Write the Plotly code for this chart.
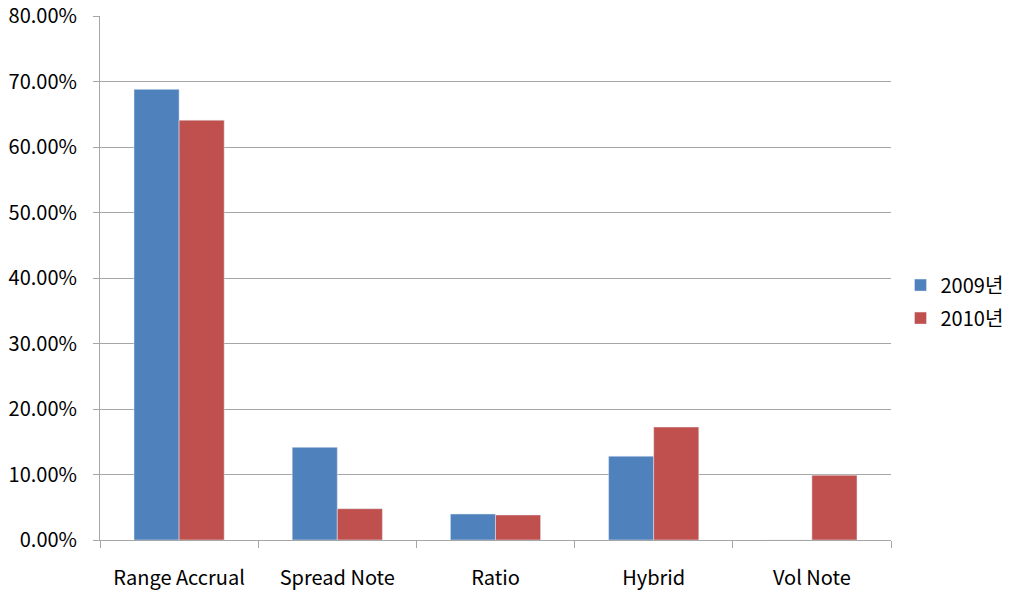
import plotly.graph_objects as go

categories = ["Range Accrual", "Spread Note", "Ratio", "Hybrid", "Vol Note"]
share_2009 = [0.688, 0.1415, 0.0397, 0.128, 0.0]
share_2010 = [0.641, 0.0478, 0.0382, 0.1725, 0.099]
y_ticks = [0, 0.1, 0.2, 0.3, 0.4, 0.5, 0.6, 0.7, 0.8]

FONT = "Noto Sans CJK KR, Open Sans, sans-serif"
GRID = "#a6a6a6"

fig = go.Figure()
fig.add_trace(go.Bar(name="2009년", x=categories, y=share_2009, legendgroup="a",
                     marker=dict(color="#4F81BD")))
fig.add_trace(go.Bar(name="2010년", x=categories, y=share_2010, legendgroup="b",
                     marker=dict(color="#C0504D")))

fig.update_layout(
    width=1011, height=591,
    margin=dict(l=100, r=120, t=16, b=51, autoexpand=False),
    paper_bgcolor="white", plot_bgcolor="white",
    barmode="group", bargap=0.43, bargroupgap=0,
    font=dict(family=FONT, size=20, color="#000000"),
    legend=dict(x=1.012, y=0.455, xanchor="left", yanchor="middle",
                font=dict(size=20), itemwidth=30, tracegroupgap=4),
    showlegend=True,
)
fig.update_xaxes(
    showline=True, linecolor=GRID, linewidth=1, automargin=False,
    ticks="outside", tickson="boundaries", ticklen=7, tickcolor=GRID,
    ticklabelstandoff=20, showgrid=False,
)
fig.update_yaxes(
    range=[0, 0.8], tickvals=y_ticks, tickformat=".2%",
    showline=True, linecolor=GRID, linewidth=1, automargin=False,
    ticks="outside", ticklen=6, tickcolor=GRID,
    showgrid=True, gridcolor=GRID, gridwidth=1,
    zeroline=False, ticklabelstandoff=12,
)

fig.write_html("out.html")
